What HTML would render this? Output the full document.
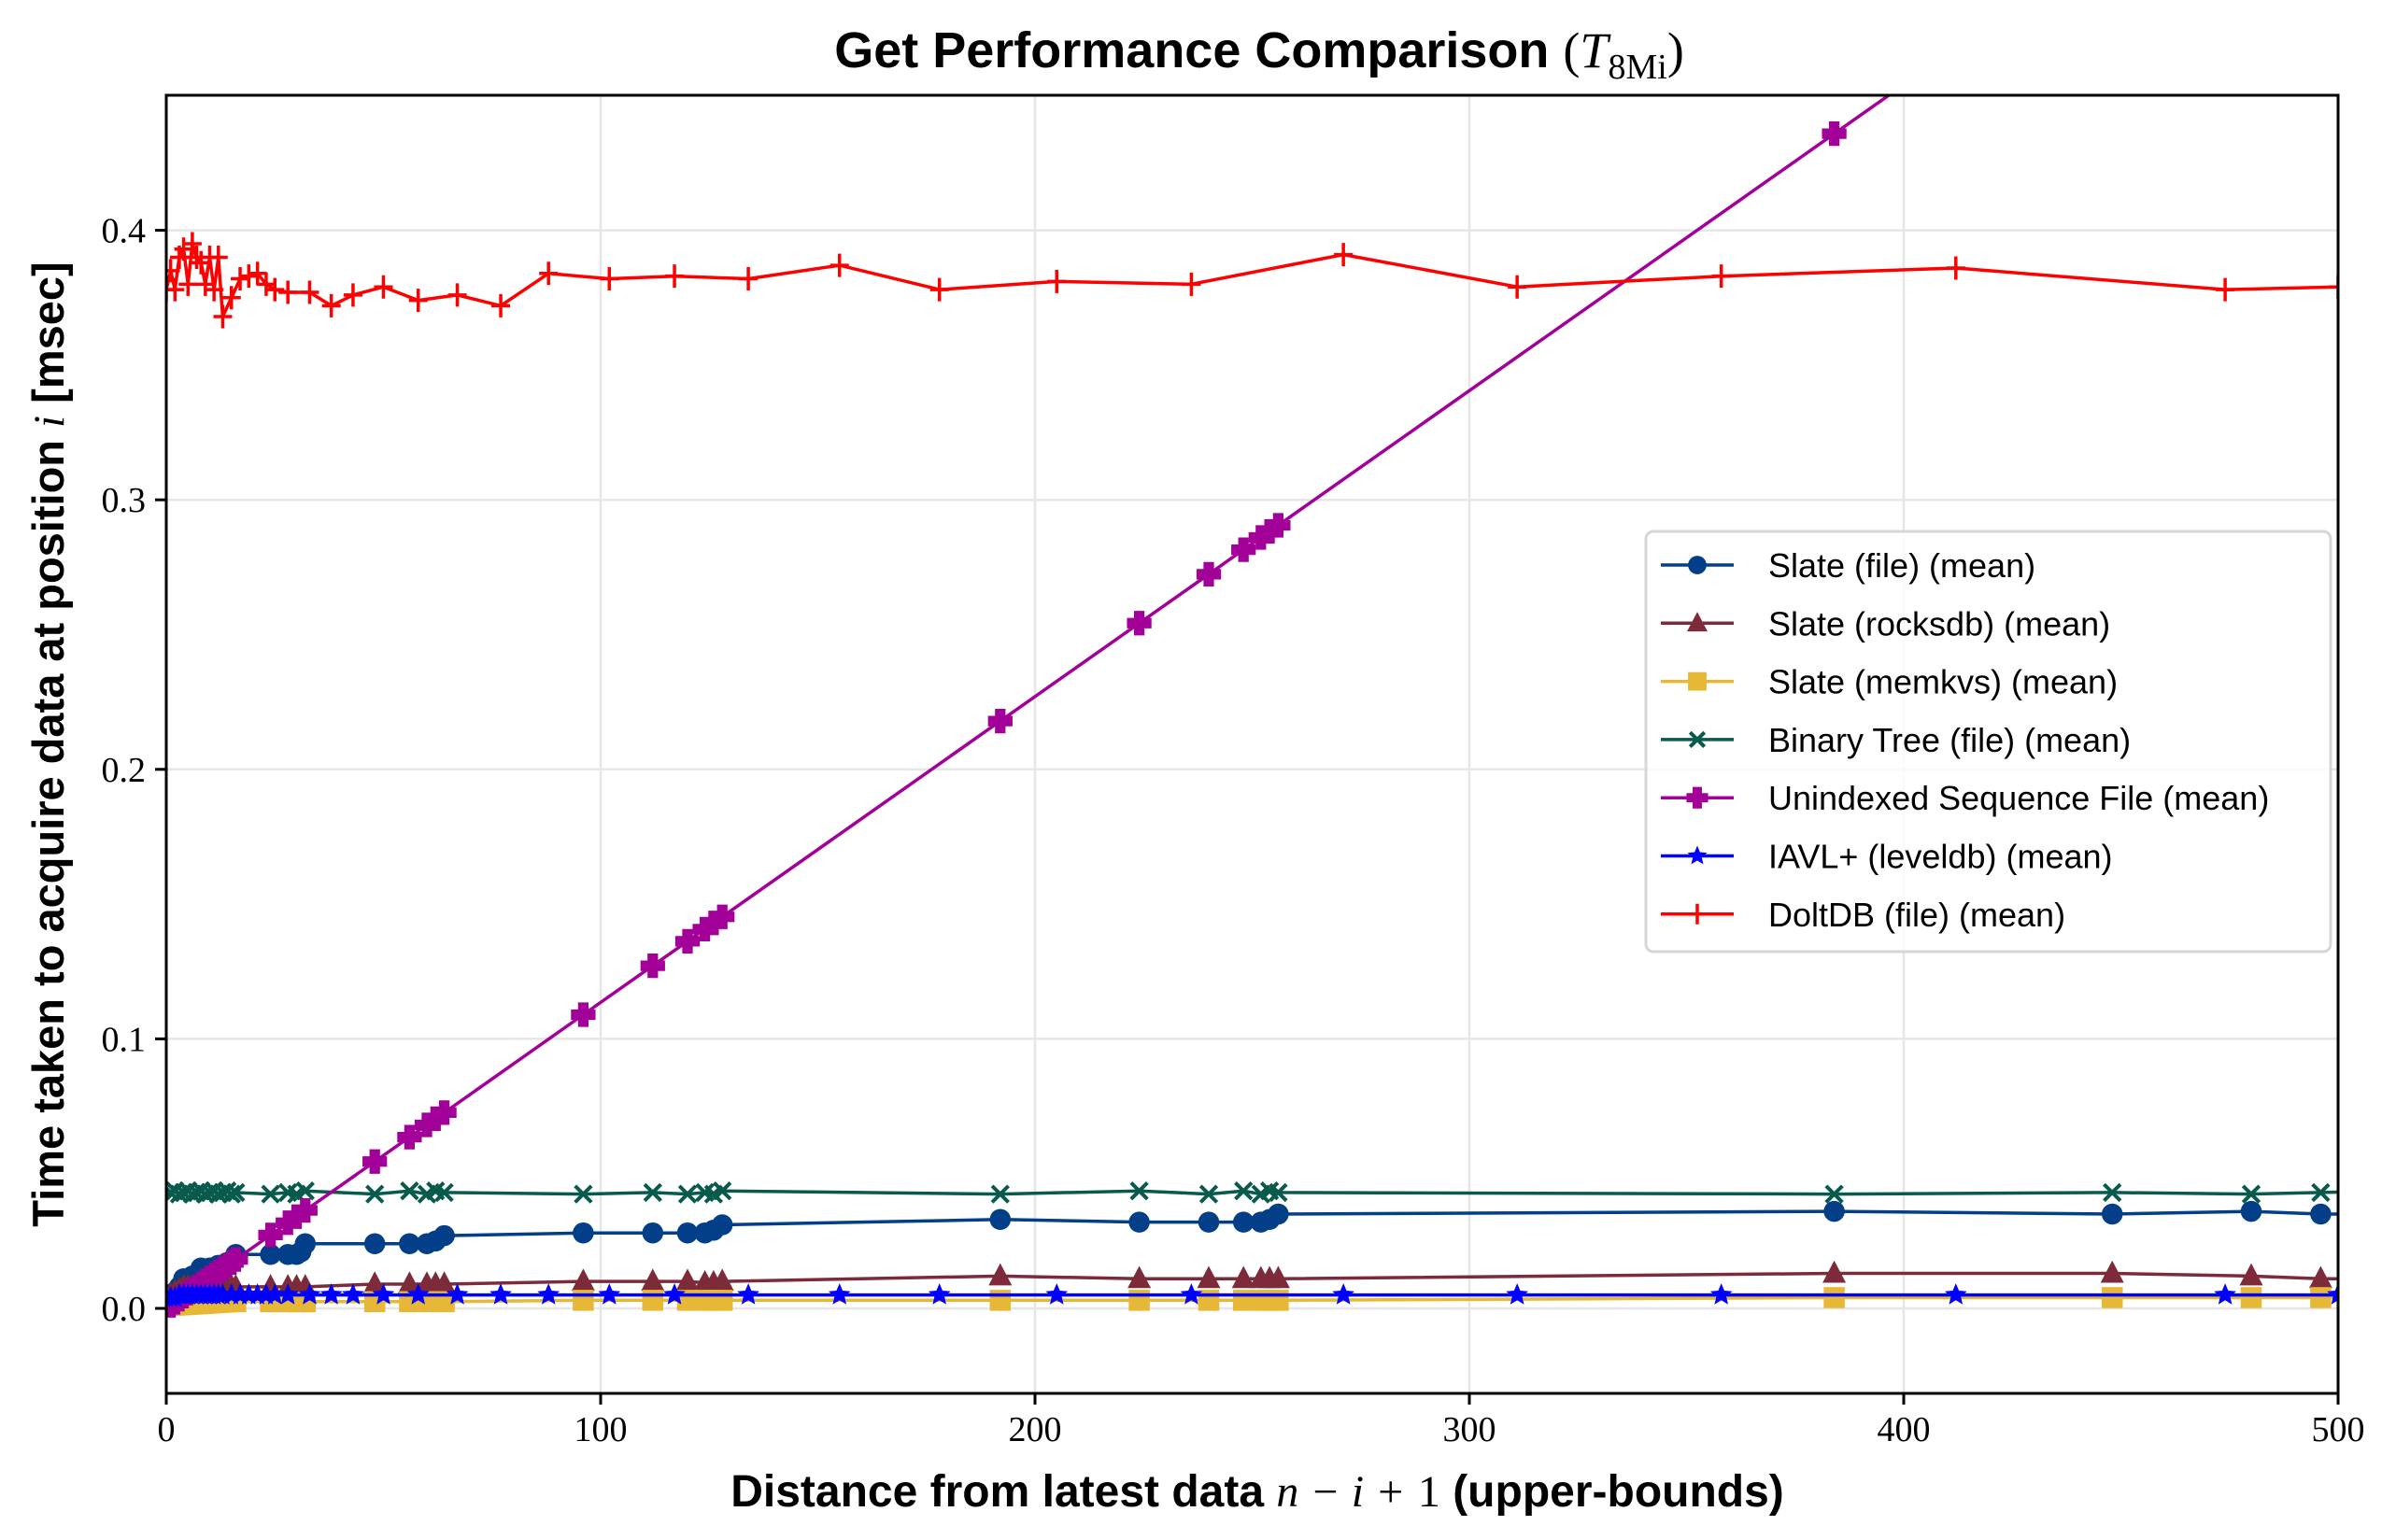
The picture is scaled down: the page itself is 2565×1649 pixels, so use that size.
<!DOCTYPE html>
<html><head><meta charset="utf-8"><style>
html,body{margin:0;padding:0;background:#fff;}
svg{display:block;}
</style></head><body>
<svg id="s" xmlns="http://www.w3.org/2000/svg" width="2565" height="1649" viewBox="0 0 2565 1649">
<defs><clipPath id="c"><rect x="178" y="102" width="2325" height="1390"/></clipPath></defs>
<rect width="2565" height="1649" fill="#fff"/>
<g id="grid" stroke="#e6e6e6" stroke-width="2.5"></g>
<g id="series" clip-path="url(#c)"></g>
<rect x="178" y="102" width="2325" height="1390" fill="none" stroke="#000" stroke-width="3"/>
<g id="ticks" font-family="Liberation Serif, serif" font-size="38" fill="#000"></g>
<text x="1348" y="72" text-anchor="middle" font-family="Liberation Sans, sans-serif" font-weight="bold" font-size="54">Get Performance Comparison <tspan font-family="Liberation Serif, serif" font-weight="normal">(</tspan><tspan font-family="Liberation Serif, serif" font-style="italic" font-weight="normal">T</tspan><tspan font-family="Liberation Serif, serif" font-weight="normal" font-size="38" dy="12">8Mi</tspan><tspan font-family="Liberation Serif, serif" font-weight="normal" dy="-12">)</tspan></text>
<text x="1346" y="1613" text-anchor="middle" font-family="Liberation Sans, sans-serif" font-weight="bold" font-size="48">Distance from latest data <tspan font-family="Liberation Serif, serif" font-style="italic" font-weight="normal">n − i +</tspan> <tspan font-family="Liberation Serif, serif" font-weight="normal">1</tspan> (upper-bounds)</text>
<text transform="translate(68,797) rotate(-90)" text-anchor="middle" font-family="Liberation Sans, sans-serif" font-weight="bold" font-size="47">Time taken to acquire data at position <tspan font-family="Liberation Serif, serif" font-style="italic" font-weight="normal">i</tspan> [msec]</text>
<g id="legend"></g>
</svg>
<script>
var NS="http://www.w3.org/2000/svg";
function el(t,a,p){var e=document.createElementNS(NS,t);for(var k in a)e.setAttribute(k,a[k]);(p||document.getElementById('s')).appendChild(e);return e;}
function X(x){return 178+x*4.65;}
function Y(y){return 1401-y*2886;}
var grid=document.getElementById('grid'),ticks=document.getElementById('ticks');
for(var i=0;i<=5;i++){var x=X(i*100);el('line',{x1:x,x2:x,y1:102,y2:1492},grid);
 el('line',{x1:x,x2:x,y1:1492,y2:1504,stroke:'#000','stroke-width':3},ticks);
 var t=el('text',{x:x,y:1543,'text-anchor':'middle'},ticks);t.textContent=String(i*100);}
for(var i=0;i<=4;i++){var y=Y(i/10);el('line',{x1:178,x2:2503,y1:y,y2:y},grid);
 el('line',{x1:166,x2:178,y1:y,y2:y,stroke:'#000','stroke-width':3},ticks);
 var t=el('text',{x:156,y:y+13,'text-anchor':'end'},ticks);t.textContent=(i/10).toFixed(1);}
var xs1=[1,2,3,4,5,6,7,8,9,10,11,12,13,14,15,16,24,28,30,32,48,56,60,62,64,96,112,120,124,126,128,192,224,240,248,252,254,256,384,448,480,496,512];
function mk(fn){return xs1.map(function(x){return [x,fn(x)];});}
var file=[[1,.003],[2,.006],[3,.008],[4,.011],[6,.012],[8,.015],[10,.015],[12,.016],[14,.017],[16,.02],[24,.02],[28,.02],[30,.02],[31,.021],[32,.024],[48,.024],[56,.024],[60,.024],[62,.025],[64,.027],[96,.028],[112,.028],[120,.028],[124,.028],[126,.029],[128,.031],[192,.033],[224,.032],[240,.032],[248,.032],[252,.032],[254,.033],[256,.035],[384,.036],[448,.035],[480,.036],[496,.035],[512,.035]];
var rocks=mk(function(x){if(x<4)return .004+x*.001;if(x<=32)return .008;if(x<=64)return .009;if(x<=128)return .0095+((x%8)?0:.0005);if(x<=192)return .012;if(x<=256)return .011;if(x<=448)return .013;if(x<=480)return .012;return .011;});
var mem=mk(function(x){if(x<16)return .001+x*.0001;if(x<=64)return .0025;if(x<=256)return .003;return .004;});
var bt=mk(function(x){return .043+((x*7)%3-1)*.0006;});
var pur=mk(function(x){return x*.001135;});
var dx=[0,1,2,3,4,5,6,7,8,9,10,11,12,13,15,17,19,21,23,25,28,33,38,43,50,58,67,77,88,102,117,134,155,178,205,236,271,311,358,412,474,500];
var dy=[.378,.385,.378,.39,.393,.38,.395,.39,.388,.38,.39,.378,.39,.368,.375,.382,.383,.384,.38,.378,.377,.377,.372,.376,.379,.374,.376,.372,.384,.382,.383,.382,.387,.378,.381,.38,.391,.379,.383,.386,.378,.379];
var red=dx.map(function(x,i){return [x,dy[i]];});
var iavl=dx.map(function(x){return [x,x<3?.004:.005];});
function marker(g,type,c,x,y,s){
 s=s||1.25;
 if(type=='o')el('circle',{cx:x,cy:y,r:9*s,fill:c},g);
 else if(type=='^')el('polygon',{points:(x)+','+(y-11*s)+' '+(x-10*s)+','+(y+8*s)+' '+(x+10*s)+','+(y+8*s),fill:c},g);
 else if(type=='s')el('rect',{x:x-9*s,y:y-9*s,width:18*s,height:18*s,fill:c},g);
 else if(type=='x'){el('path',{d:'M'+(x-7*s)+','+(y-7*s)+'L'+(x+7*s)+','+(y+7*s)+'M'+(x+7*s)+','+(y-7*s)+'L'+(x-7*s)+','+(y+7*s),stroke:c,'stroke-width':4},g);}
 else if(type=='P'){var a=4.5*s,b=10.5*s;el('path',{d:'M'+(x-a)+','+(y-b)+'h'+2*a+'v'+(b-a)+'h'+(b-a)+'v'+2*a+'h'+(a-b)+'v'+(b-a)+'h'+(-2*a)+'v'+(a-b)+'h'+(a-b)+'v'+(-2*a)+'h'+(b-a)+'z',fill:c},g);}
 else if(type=='*'){var p=[];for(var k=0;k<10;k++){var r=(k%2?4.5:10)*s,an=-Math.PI/2+k*Math.PI/5;p.push((x+r*Math.cos(an)).toFixed(1)+','+(y+r*Math.sin(an)).toFixed(1));}el('polygon',{points:p.join(' '),fill:c},g);}
 else if(type=='+'){el('path',{d:'M'+(x-8*s)+','+y+'H'+(x+8*s)+'M'+x+','+(y-10*s)+'V'+(y+10*s),stroke:c,'stroke-width':3.5},g);}
}
var S=[
 ['Slate (file) (mean)','#023f88','o',file],
 ['Slate (rocksdb) (mean)','#7d2b3b','^',rocks],
 ['Slate (memkvs) (mean)','#e6b836','s',mem],
 ['Binary Tree (file) (mean)','#075a4c','x',bt],
 ['Unindexed Sequence File (mean)','#a3009a','P',pur],
 ['IAVL+ (leveldb) (mean)','#0000ff','*',iavl],
 ['DoltDB (file) (mean)','#ff0000','+',red]];
var sg=document.getElementById('series');
S.forEach(function(s){var g=el('g',{},sg);
 el('polyline',{points:s[3].map(function(p){return X(p[0]).toFixed(1)+','+Y(p[1]).toFixed(1);}).join(' '),fill:'none',stroke:s[1],'stroke-width':3.5,'stroke-linejoin':'round'},g);
 s[3].forEach(function(p){marker(g,s[2],s[1],X(p[0]),Y(p[1]));});});
var lg=document.getElementById('legend');
el('rect',{x:1762,y:569,width:733,height:450,rx:8,fill:'#fff','fill-opacity':0.8,stroke:'#d6d6d6','stroke-width':3},lg);
S.forEach(function(s,i){var y=605+i*62.3;
 el('line',{x1:1778,x2:1856,y1:y,y2:y,stroke:s[1],'stroke-width':3.5},lg);
 marker(lg,s[2],s[1],1817,y,1.1);
 var t=el('text',{x:1893,y:y+13,'font-family':'Liberation Sans, sans-serif','font-size':36,fill:'#000'},lg);t.textContent=s[0];});
</script>
</body></html>
